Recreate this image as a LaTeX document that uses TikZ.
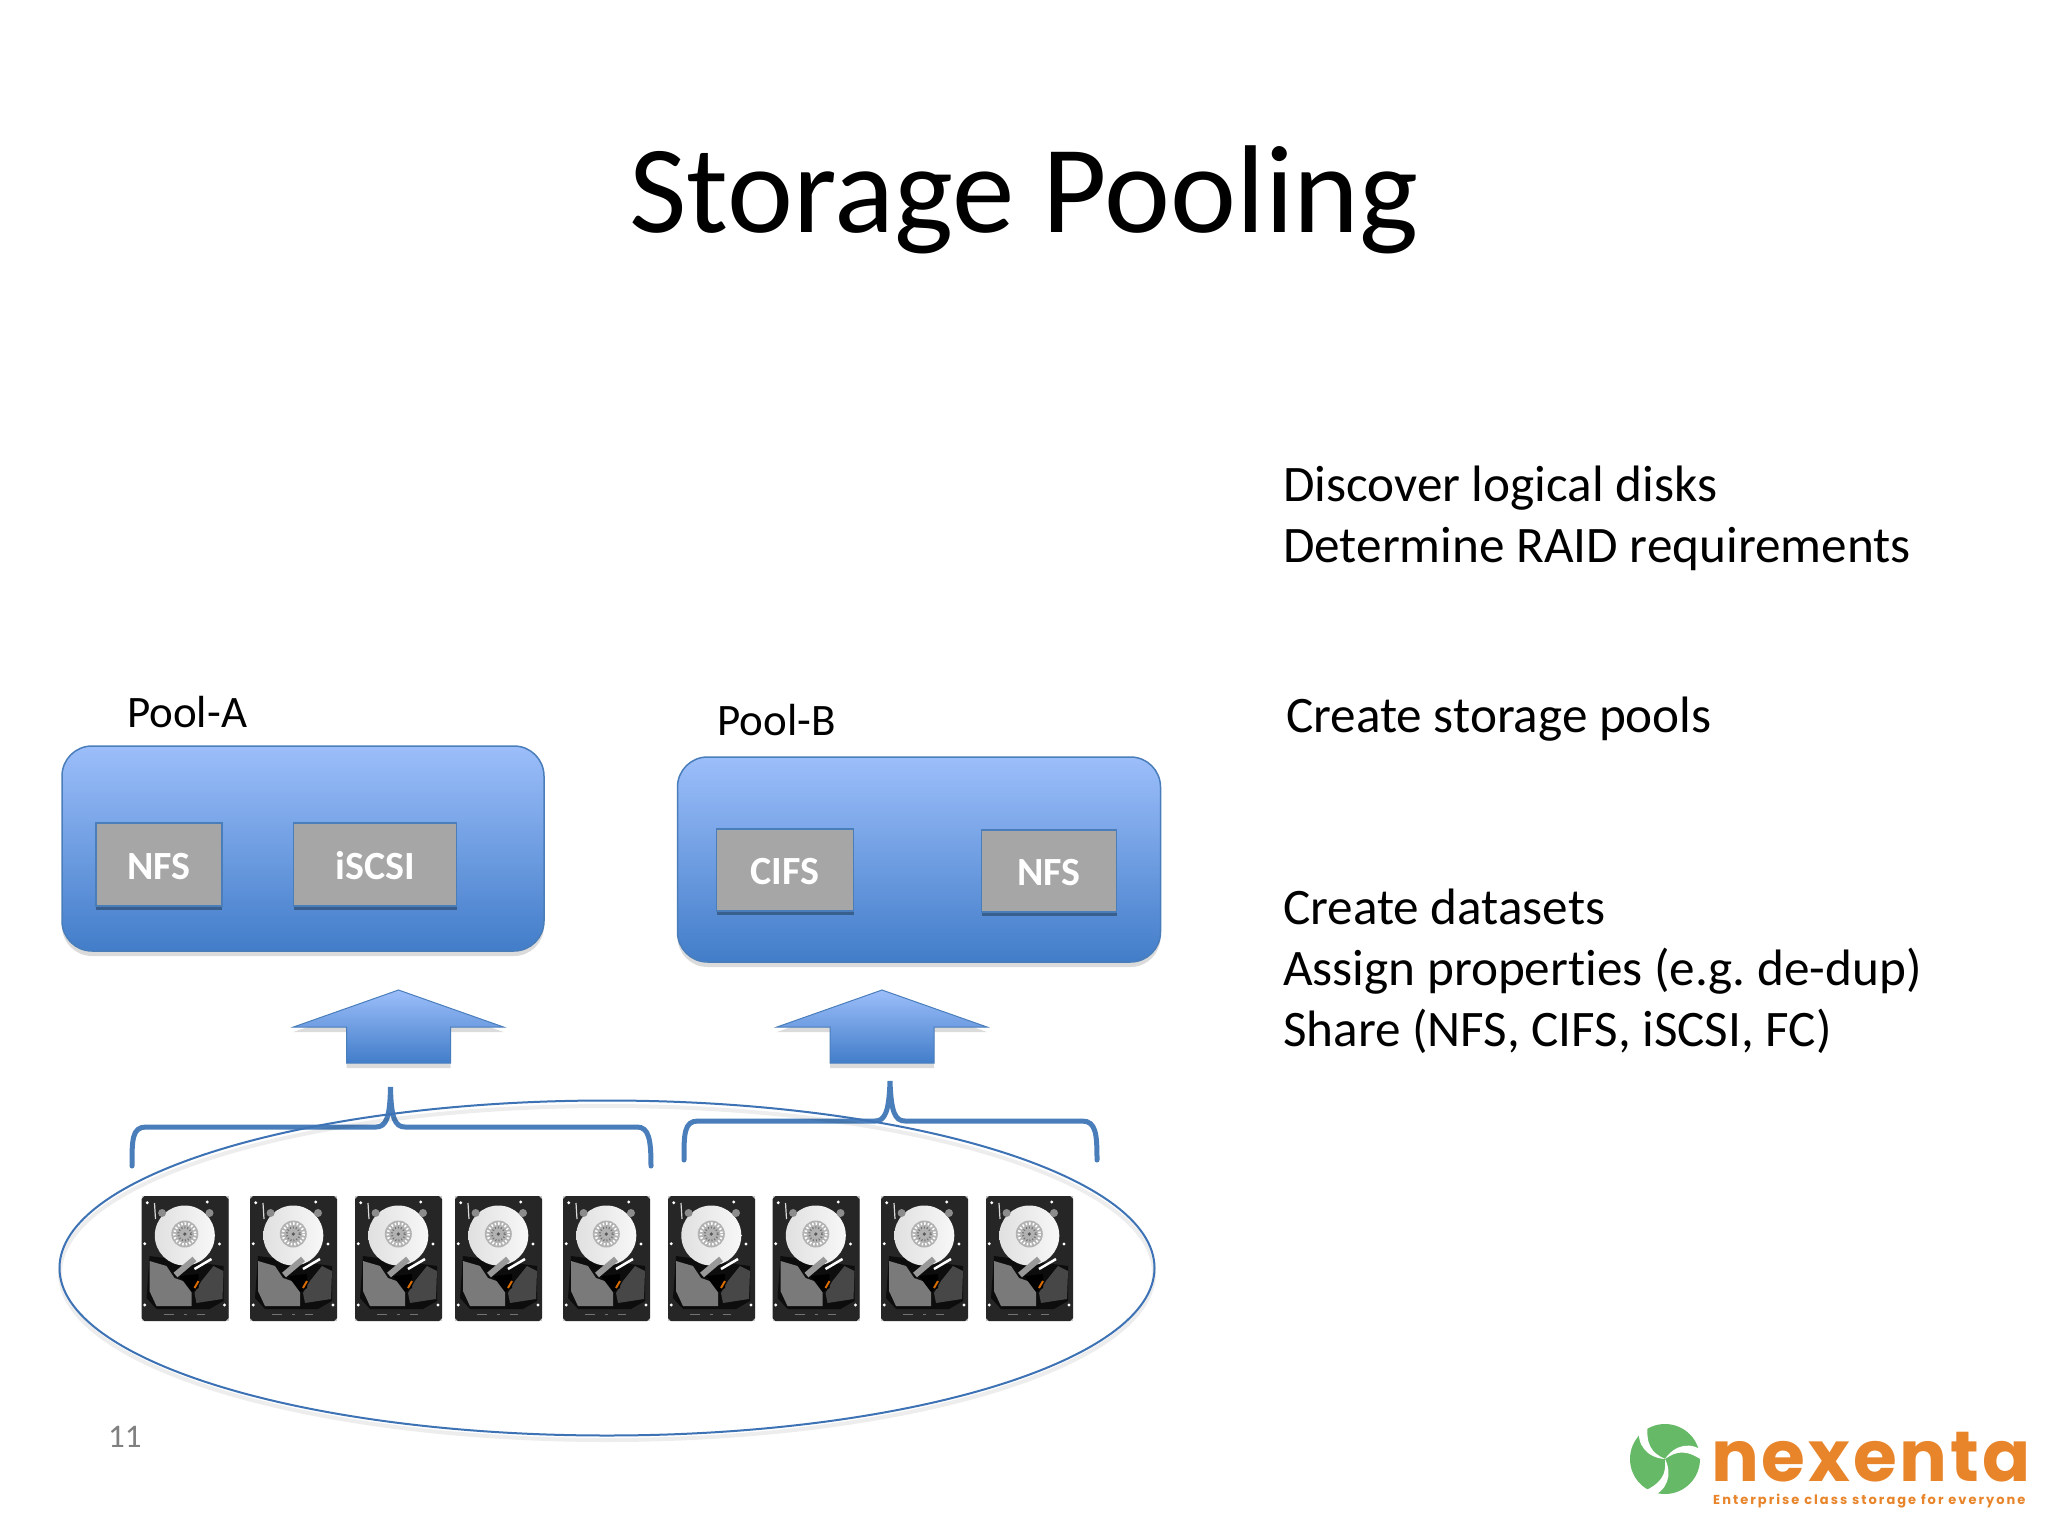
\documentclass[tikz,border=0pt]{standalone}
\usepackage{fontspec}
\setmainfont[Ligatures=CommonOff]{Carlito}
\newfontfamily\logofont[LetterSpace=4]{Poppins}
\newfontfamily\logotagfont[LetterSpace=15.5]{Poppins}
\usetikzlibrary{shapes.geometric, shadows}
\definecolor{frameblue}{HTML}{4A7EBB}
\definecolor{ringblue}{HTML}{3D72B4}
\definecolor{boxgray}{HTML}{A6A6A6}
\definecolor{logoorange}{HTML}{E8842A}
\definecolor{logogreen}{HTML}{66B966}
\definecolor{poolhi}{HTML}{9CBEFA}
\definecolor{poolmid}{HTML}{7AA5E8}
\definecolor{poollow}{HTML}{427DC9}
\newcommand{\fsize}[1]{\fontsize{#1}{#1}\selectfont}

\begin{document}
\begin{tikzpicture}[
    x=1pt, y=-1pt,% picture units are the pixels of the slide
       softshadow/.style = {general shadow={fill=black, opacity=.14, shadow xshift=0pt, shadow yshift=-5pt}},
       svcshadow/.style = {general shadow={fill=frameblue!60!black, opacity=.7, shadow xshift=0pt, shadow yshift=-4pt}},
       pool/.style = {draw=frameblue, line width=1.5pt, rounded corners=30pt, top color=poolhi, middle color=poolmid, bottom color=poollow, softshadow},% pool panels
       svc/.style = {draw=frameblue, line width=1.5pt, fill=boxgray, text=white, text height=29pt, text depth=0pt, font=\fsize{40}\bfseries, svcshadow},% shares inside a pool
       caption/.style = {anchor=base west, inner sep=0pt, font=\fsize{45}},
       note/.style = {anchor=base west, inner sep=0pt, font=\fsize{51.2}},
       blockarrow/.style = {draw=frameblue, line width=1pt, top color=poolhi, middle color=poolmid, bottom color=poollow, softshadow},
       poolbrace/.style = {draw=frameblue, line width=5pt, line cap=round},
       hdd/.pic = {
        \fill[black!22] (0,0) rectangle (87,125);
        \fill[black!85] (3,0) -- (84,0) -- (87,3) -- (87,122) -- (84,125) -- (3,125) -- (0,122) -- (0,3) -- cycle;
        \fill[black!95] (8,60) -- (82,70) -- (82,105) -- (68,113) -- (15,113) -- (5,102) -- cycle;
        \shade[left color=black!12, right color=black!3] (43.3,39.5) circle (30);
        \fill[black!30] (43.3,38) circle (13.5);
        \draw[white, line width=2.5pt, dash pattern=on 1.5pt off 2pt] (43.3,38) circle (10.5);
        \draw[black!55, line width=2pt, dash pattern=on 1pt off 2pt] (43.3,38) circle (6.5);
        \fill[black!65] (43.3,38) circle (1.8);
        \fill[black!52] (8,65) -- (25,70) -- (33,82) -- (50,88) -- (50,110) -- (15,110) -- (8,95) -- cycle;
        \fill[black!72] (72,70) -- (82,75) -- (81,103) -- (55,107) -- (53,97) -- (60,85) -- cycle;
        \fill[black] (38,80) -- (57,78) -- (57,92) -- (50,96) -- cycle;
        \draw[black!40, line width=6pt] (53,63) -- (34,79);
        \draw[white, line width=2.5pt] (53,73) -- (70,63);
        \draw[orange!85!black, line width=2pt] (53,92) -- (57,85);
        \draw[black!15, line width=1.2pt] (13,7) -- (14,23);
        \fill[black!45] (68,17) circle (4) (20.6,17) circle (4);
        \fill[white] (5.7,6.7) circle (1.6) (65.7,6) circle (1.6) (3.3,47.7) circle (1.6)
          (78,48) circle (1.6) (3.3,109) circle (1.6) (83,109) circle (1.6);
        \draw[black!55, line width=1pt] (22,118) -- (32,118) (42,118) -- (45,118) (55,118) -- (63,118);
       }
    ]
    \useasboundingbox (0,0) rectangle (2048,1536);
    \fill[white] (0,0) rectangle (2048,1536);

    \node (title) [anchor=base, inner sep=0pt, font=\fsize{125}] at (1024,232) {Storage Pooling};

    % the two pools
    \node (poolA) [pool, minimum width=482pt, minimum height=205pt] at (303,848.5) {};
    \node (poolB) [pool, minimum width=483pt, minimum height=205pt] at (919,859.5) {};
    \node (poolAlabel) [caption] at (127,727) {Pool-A};
    \node (poolBlabel) [caption] at (717,735) {Pool-B};
    \node (nfsA) [svc, minimum width=126pt, minimum height=83pt] at (159,864.5) {NFS};
    \node (iscsi) [svc, minimum width=163pt, minimum height=83pt] at (375,864.5) {iSCSI};
    \node (cifs) [svc, minimum width=137pt, minimum height=82pt] at (785,870) {CIFS};
    \node (nfsB) [svc, minimum width=135pt, minimum height=82pt] at (1049,871) {NFS};

    % block arrows
    \foreach \tipx in {398.5, 882} {
        \path[blockarrow] (\tipx,990) -- (\tipx+105,1027) -- (\tipx+52,1027) -- (\tipx+52,1063)
            -- (\tipx-52,1063) -- (\tipx-52,1027) -- (\tipx-105,1027) -- cycle;
    }

    % braces over the disks
    \draw[poolbrace] (132,1166) .. controls (132,1140) and (132,1127) .. (146,1127)
        -- (376,1127) .. controls (386,1127) and (390,1118) .. (390.5,1087)
        .. controls (391,1118) and (395,1127) .. (405,1127)
        -- (637,1127) .. controls (649,1127) and (651,1140) .. (651,1166);
    \draw[poolbrace] (684,1160) .. controls (684,1134) and (684,1121) .. (698,1121)
        -- (875,1121) .. controls (885,1121) and (889,1112) .. (890,1081)
        .. controls (891,1112) and (895,1121) .. (905,1121)
        -- (1082,1121) .. controls (1096,1121) and (1097,1134) .. (1097,1160);

    % ring round all disks
    \draw[black, opacity=.07, line width=4pt] (607,1273) ellipse (547 and 167);
    \node (allDisks) [ellipse, draw=ringblue, line width=2pt, inner sep=0pt, minimum width=1095pt, minimum height=335pt] at (607,1268) {};

    \foreach \diskx in {141.5, 250, 355, 455, 563, 668, 772.5, 881, 986}
        \pic at (\diskx,1196) {hdd};

    \node (discover) [note] at (1283,501.5) {Discover logical disks};
    \node (raid) [note] at (1283,562.5) {Determine RAID requirements};
    \node (create) [note] at (1286,732.5) {Create storage pools};
    \node (datasets) [note] at (1283,924) {Create datasets};
    \node (assign) [note] at (1283,985) {Assign properties (e.g.\ de-dup)};
    \node (share) [note] at (1283,1046) {Share (NFS, CIFS, iSCSI, FC)};

    \node (pageno) [anchor=base west, inner sep=0pt, text=black!50, font=\fsize{33}] at (108,1447) {11};

    % logo
    \fill[logogreen] (1665,1459) circle (35);
    \foreach \turn in {0,120,240}
        \fill[white, rotate around={\turn:(1665,1459)}] (1665,1459)
            .. controls (1652,1453) and (1645,1445) .. (1648,1422)
            -- (1640,1426) .. controls (1635,1445) and (1648,1458) .. cycle;
    \node (logoname) [anchor=base west, inner sep=0pt, text depth=0pt, text=logoorange, font=\logofont\fsize{71}\bfseries] at (1711,1481) {nexenta};
    \node (logotag) [anchor=base west, inner sep=0pt, text height=9pt, text=logoorange, font=\logotagfont\fsize{13}\bfseries] at (1713,1504) {Enterprise class storage for everyone};
\end{tikzpicture}
\end{document}
